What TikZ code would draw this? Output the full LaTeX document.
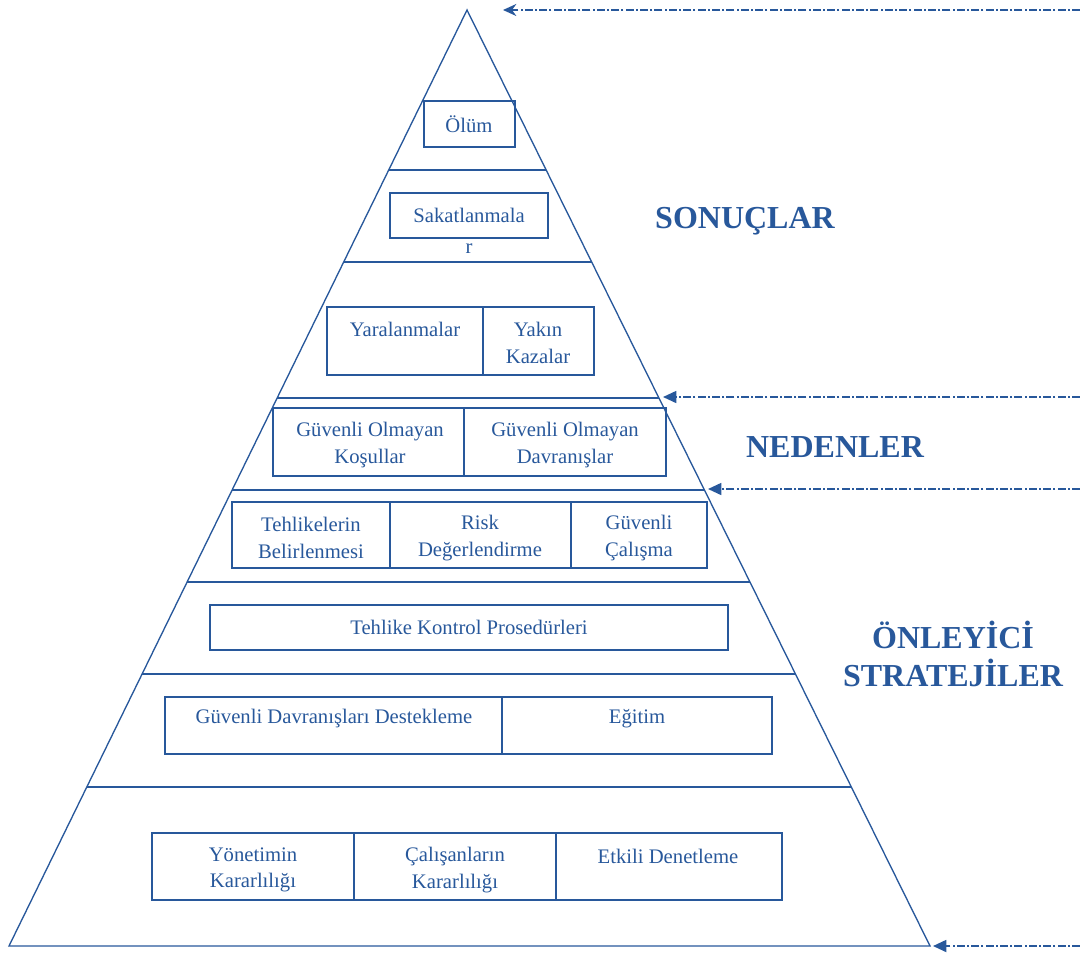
\documentclass[tikz,border=0pt]{standalone}
\usepackage{fontspec}
\setmainfont{Liberation Serif}
\usetikzlibrary{arrows.meta,calc}
\definecolor{pblue}{RGB}{40,88,155}
\begin{document}
\begin{tikzpicture}[x=0.75pt,y=-0.75pt,
  line/.style={draw=pblue,line width=1pt},
  cell/.style={draw=pblue,line width=1.1pt},
  txt/.style={text=pblue,font=\fontsize{15.5}{20}\selectfont,align=center,inner sep=0pt},
  big/.style={text=pblue,font=\fontsize{24}{28.5}\selectfont\bfseries,align=center,inner sep=0pt},
  dd/.style={draw=pblue,line width=1.3pt,dash pattern=on 6pt off 1.6pt on 1.6pt off 1.6pt},
  tri/.style={-{Triangle[length=10pt,width=9pt]}},
  stl/.style={-{Stealth[length=10pt,width=9pt]}}]
\useasboundingbox (0,0) rectangle (1080,956);
% pyramid
\coordinate (A) at (467,10);
\coordinate (BL) at (9,946);
\coordinate (BR) at (930,946);
\draw[line] (A) -- (BL) -- (BR) -- cycle;
% band separators
\draw[line] (389,170) -- (546,170);
\draw[line] (344,262) -- (592,262);
\draw[line,line width=1.4pt] (277,398) -- (659,398);
\draw[line,line width=1.4pt] (232,490) -- (704,490);
\draw[line,line width=1.2pt] (187,582) -- (750,582);
\draw[line] (142,674) -- (795,674);
\draw[line] (87,787) -- (851,787);
% boxes
\draw[cell] (424,101) rectangle (515,147);
\node[txt] (olum) at (469,124) {Ölüm};
\draw[cell] (390,193) rectangle (548,238);
\node[txt] (sak) at (469,215) {Sakatlanmala};
\node[txt] (sakr) at (469,249) {r};
\draw[cell] (327,307) rectangle (594,375);
\draw[cell] (483,307) -- (483,375);
\node[txt] (yar) at (405,329) {Yaralanmalar};
\node[txt] (yak) at (538,343) {Yakın\\Kazalar};
\draw[cell] (273,408) rectangle (666,476);
\draw[cell] (464,408) -- (464,476);
\node[txt] (gok) at (370,445) {Güvenli Olmayan\\Koşullar};
\node[txt] (god) at (565,445) {Güvenli Olmayan\\Davranışlar};
\draw[cell] (232,502) rectangle (707,568);
\draw[cell] (390,502) -- (390,568);
\draw[cell] (571,502) -- (571,568);
\node[txt] (teh) at (311,538) {Tehlikelerin\\Belirlenmesi};
\node[txt] (risk) at (480,538) {Risk\\Değerlendirme};
\node[txt] (gc) at (639,538) {Güvenli\\Çalışma};
\draw[cell] (210,605) rectangle (728,650);
\node[txt] (tkp) at (469,627) {Tehlike Kontrol Prosedürleri};
\draw[cell] (165,697) rectangle (772,754);
\draw[cell] (502,697) -- (502,754);
\node[txt] (gdd) at (334,719) {Güvenli Davranışları Destekleme};
\node[txt] (egt) at (637,719) {Eğitim};
\draw[cell] (152,833) rectangle (782,900);
\draw[cell] (354,833) -- (354,900);
\draw[cell] (556,833) -- (556,900);
\node[txt] (yon) at (253,870) {Yönetimin\\Kararlılığı};
\node[txt] (cal) at (455,870) {Çalışanların\\Kararlılığı};
\node[txt] (etk) at (668,856) {Etkili Denetleme};
% labels
\node[big] (son) at (745,221) {SONUÇLAR};
\node[big] (ned) at (835,447) {NEDENLER};
\node[big] (onl) at (953,654) {ÖNLEYİCİ\\STRATEJİLER};
% arrows
\coordinate (t1) at (503,10);
\coordinate (t2) at (663,397);
\coordinate (t3) at (708,489);
\coordinate (t4) at (933,946);
\coordinate (s1) at (1080,10);
\coordinate (s2) at (1080,397);
\coordinate (s3) at (1080,489);
\coordinate (s4) at (1080,946);
\draw[dd,stl] (s1) -- (t1);
\draw[dd,tri] (s2) -- (t2);
\draw[dd,tri] (s3) -- (t3);
\draw[dd,tri] (s4) -- (t4);
\end{tikzpicture}
\end{document}
